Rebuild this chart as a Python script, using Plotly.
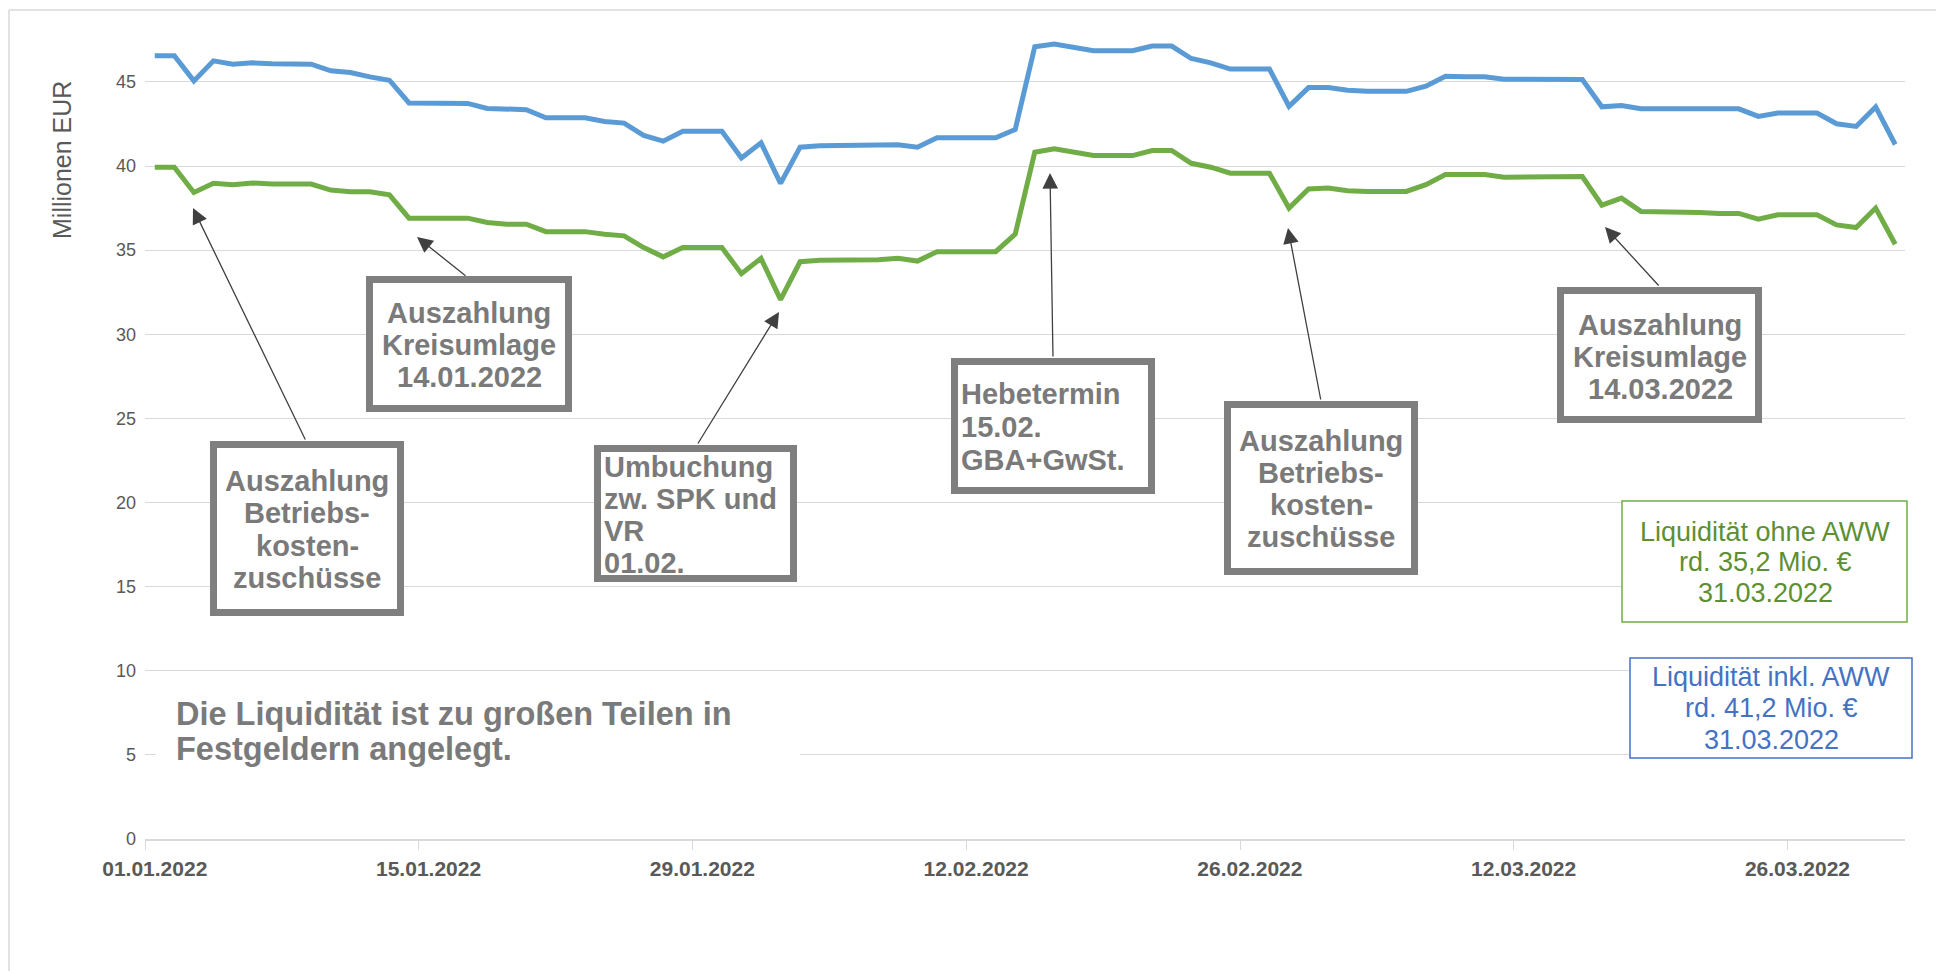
import pandas as pd
import plotly.graph_objects as go

# ---------------- data ----------------
dates = pd.date_range("2022-01-01", "2022-03-31", freq="D")

liquiditaet_inkl_aww = [
    46.55, 46.55, 45.06, 46.25, 46.05, 46.13, 46.08, 46.05, 46.05, 45.66,
    45.56, 45.30, 45.10, 43.75, 43.72, 43.72, 43.72, 43.42, 43.35, 43.35,
    42.87, 42.87, 42.87, 42.65, 42.55, 41.82, 41.48, 42.07, 42.07, 42.07,
    40.48, 41.38, 38.97, 41.12, 41.20, 41.20, 41.20, 41.20, 41.26, 41.12,
    41.68, 41.68, 41.68, 41.68, 42.17, 47.09, 47.25, 47.05, 46.85, 46.85,
    46.85, 47.13, 47.13, 46.39, 46.13, 45.76, 45.76, 45.76, 43.55, 44.66,
    44.66, 44.50, 44.44, 44.44, 44.44, 44.74, 45.34, 45.30, 45.30, 45.16,
    45.16, 45.16, 45.16, 45.14, 43.52, 43.60, 43.40, 43.40, 43.40, 43.45,
    43.45, 43.40, 42.95, 43.15, 43.15, 43.15, 42.51, 42.35, 43.51, 41.28,
]

liquiditaet_ohne_aww = [
    39.93, 39.93, 38.43, 38.97, 38.89, 38.99, 38.93, 38.93, 38.93, 38.57,
    38.47, 38.47, 38.29, 36.90, 36.90, 36.90, 36.90, 36.64, 36.54, 36.54,
    36.10, 36.10, 36.10, 35.95, 35.85, 35.15, 34.60, 35.15, 35.15, 35.15,
    33.60, 34.51, 32.06, 34.31, 34.40, 34.40, 34.40, 34.43, 34.51, 34.35,
    34.91, 34.91, 34.91, 34.91, 35.95, 40.82, 41.02, 40.82, 40.62, 40.62,
    40.62, 40.92, 40.92, 40.16, 39.93, 39.57, 39.57, 39.57, 37.50, 38.63,
    38.69, 38.53, 38.49, 38.49, 38.49, 38.89, 39.49, 39.49, 39.49, 39.33,
    39.33, 39.33, 39.37, 39.37, 37.67, 38.09, 37.30, 37.30, 37.30, 37.24,
    37.18, 37.18, 36.84, 37.10, 37.10, 37.10, 36.50, 36.34, 37.50, 35.35,
]

x_tick_dates = ["2022-01-01", "2022-01-15", "2022-01-29", "2022-02-12",
                "2022-02-26", "2022-03-12", "2022-03-26"]
x_tick_labels = ["01.01.2022", "15.01.2022", "29.01.2022", "12.02.2022",
                 "26.02.2022", "12.03.2022", "26.03.2022"]
y_tick_vals = [0, 5, 10, 15, 20, 25, 30, 35, 40, 45]
y_title = "Millionen EUR"

note_text = ["Die Liquidität ist zu großen Teilen in", "Festgeldern angelegt."]
box_green_text = ["Liquidität ohne AWW", "rd. 35,2 Mio. €", "31.03.2022"]
box_blue_text = ["Liquidität inkl. AWW", "rd. 41,2 Mio. €", "31.03.2022"]

# ---------------- layout geometry (page pixels) ----------------
PAGE_W, PAGE_H = 1944, 971
BODY = 8                      # default html body margin
W, H = PAGE_W - BODY, PAGE_H - BODY
PL, PR, PT, PB = 145, 1905, 23, 839   # plot area in page pixels


def px(x):
    return (x - PL) / (PR - PL)


def py(y):
    return (PB - y) / (PB - PT)


FONT = "Liberation Sans, Arial, sans-serif"
GRAY_TXT = "#7a7a7a"
BLUE = "#5b9bd5"
GREEN = "#70ad47"

fig = go.Figure()
fig.add_trace(go.Scatter(x=dates, y=liquiditaet_inkl_aww, mode="lines",
                         line=dict(color=BLUE, width=5), name="inkl. AWW",
                         showlegend=False))
fig.add_trace(go.Scatter(x=dates, y=liquiditaet_ohne_aww, mode="lines",
                         line=dict(color=GREEN, width=5), name="ohne AWW",
                         showlegend=False))

shapes = []
annotations = []

# chart frame (top and left edge visible)
shapes.append(dict(type="line", xref="paper", yref="paper", x0=px(9), x1=px(PAGE_W + 5),
                   y0=py(10), y1=py(10), line=dict(color="#d9d9d9", width=1.5)))
shapes.append(dict(type="line", xref="paper", yref="paper", x0=px(9), x1=px(9),
                   y0=py(10), y1=py(PAGE_H + 5), line=dict(color="#d9d9d9", width=1.5)))

# white area behind the note text
shapes.append(dict(type="rect", xref="paper", yref="paper", x0=px(156), x1=px(800),
                   y0=py(685), y1=py(778), fillcolor="white",
                   line=dict(width=0), layer="above"))


def gray_box(x0, x1, y0, y1):
    t = 7
    shapes.append(dict(type="rect", xref="paper", yref="paper",
                       x0=px(x0 + t / 2), x1=px(x1 - t / 2),
                       y0=py(y0 + t / 2), y1=py(y1 - t / 2),
                       fillcolor="white", line=dict(color="#7f7f7f", width=t),
                       layer="above"))


def text_lines(lines, x, ys, anchor="center", size=29, color=GRAY_TXT, bold=True):
    for line, y in zip(lines, ys):
        annotations.append(dict(xref="paper", yref="paper", x=px(x), y=py(y),
                                text=line, showarrow=False, xanchor=anchor,
                                yanchor="middle",
                                font=dict(family=FONT, size=size, color=color,
                                          weight="bold" if bold else "normal")))


def arrow(tail, tip):
    annotations.append(dict(xref="paper", yref="paper", x=px(tip[0]), y=py(tip[1]),
                            ax=tail[0] - tip[0], ay=tail[1] - tip[1], text="",
                            showarrow=True, arrowhead=2, arrowsize=2.4,
                            arrowwidth=1.3, arrowcolor="#404040", standoff=0))


# Box: Auszahlung Kreisumlage 14.01.2022
gray_box(366, 572, 276, 412)
text_lines(["Auszahlung", "Kreisumlage", "14.01.2022"], 469, [313, 345, 377])
arrow((467, 277), (417, 237))

# Box: Auszahlung Betriebskostenzuschüsse (left)
gray_box(210, 404, 441, 616)
text_lines(["Auszahlung", "Betriebs-", "kosten-", "zuschüsse"], 307, [481, 513, 546, 578])
arrow((306, 441), (193, 208))

# Box: Umbuchung
gray_box(594, 797, 445, 582)
text_lines(["Umbuchung", "zw. SPK und", "VR", "01.02."], 602, [467, 499, 531, 563],
           anchor="left")
arrow((697, 445), (779, 312))

# Box: Hebetermin
gray_box(951, 1155, 358, 494)
text_lines(["Hebetermin", "15.02.", "GBA+GwSt."], 959, [394, 427, 460], anchor="left")
arrow((1053, 358), (1050, 173))

# Box: Auszahlung Betriebskostenzuschüsse (right)
gray_box(1224, 1418, 401, 575)
text_lines(["Auszahlung", "Betriebs-", "kosten-", "zuschüsse"], 1321, [441, 473, 505, 537])
arrow((1321, 401), (1288, 228))

# Box: Auszahlung Kreisumlage 14.03.2022
gray_box(1557, 1762, 287, 423)
text_lines(["Auszahlung", "Kreisumlage", "14.03.2022"], 1660, [325, 357, 389])
arrow((1660, 287), (1605, 227))

# Green info box
shapes.append(dict(type="rect", xref="paper", yref="paper", x0=px(1622), x1=px(1907),
                   y0=py(501), y1=py(622), fillcolor="white",
                   line=dict(color=GREEN, width=1.5), layer="above"))
text_lines(box_green_text, 1765, [532, 562, 593], size=27, color="#5e8f32", bold=False)

# Blue info box
shapes.append(dict(type="rect", xref="paper", yref="paper", x0=px(1630), x1=px(1912),
                   y0=py(658), y1=py(758), fillcolor="white",
                   line=dict(color="#4472c4", width=1.5), layer="above"))
text_lines(box_blue_text, 1771, [677, 708, 740], size=27, color="#4472c4", bold=False)

# Note text
text_lines(note_text, 174, [714, 749], anchor="left", size=32.5, color=GRAY_TXT)

# Y axis title
annotations.append(dict(xref="paper", yref="paper", x=px(62), y=py(160),
                        text=y_title, showarrow=False, textangle=-90,
                        xanchor="center", yanchor="middle",
                        font=dict(family=FONT, size=25, color="#595959")))

minor_ticks = [(pd.Timestamp(d) - pd.Timedelta(hours=12)) for d in x_tick_dates]

fig.update_layout(
    width=W, height=H,
    margin=dict(l=PL - BODY, r=PAGE_W - PR, t=PT - BODY, b=PAGE_H - PB),
    paper_bgcolor="white", plot_bgcolor="white",
    shapes=shapes, annotations=annotations,
    xaxis=dict(
        type="date",
        range=[dates[0] - pd.Timedelta(hours=12), dates[-1] + pd.Timedelta(hours=12)],
        tickmode="array", tickvals=x_tick_dates, ticktext=x_tick_labels,
        ticks="outside", ticklen=9, tickcolor="rgba(0,0,0,0)",
        tickfont=dict(family=FONT, size=21, color="#595959", weight="bold"),
        showgrid=False, showline=True, linecolor="#d9d9d9", linewidth=1.5,
        zeroline=False,
        minor=dict(tickmode="array", tickvals=minor_ticks, ticks="outside",
                   ticklen=9, tickcolor="#d9d9d9", tickwidth=1.3, showgrid=False),
        ticklabelstandoff=1,
    ),
    yaxis=dict(
        range=[0, 48.5], tickmode="array", tickvals=y_tick_vals,
        showgrid=True, gridcolor="#d9d9d9", gridwidth=1.3,
        zeroline=False, showline=False, ticks="",
        tickfont=dict(family=FONT, size=18, color="#595959"),
        ticklabelstandoff=8,
    ),
)

fig.write_html("out.html")
